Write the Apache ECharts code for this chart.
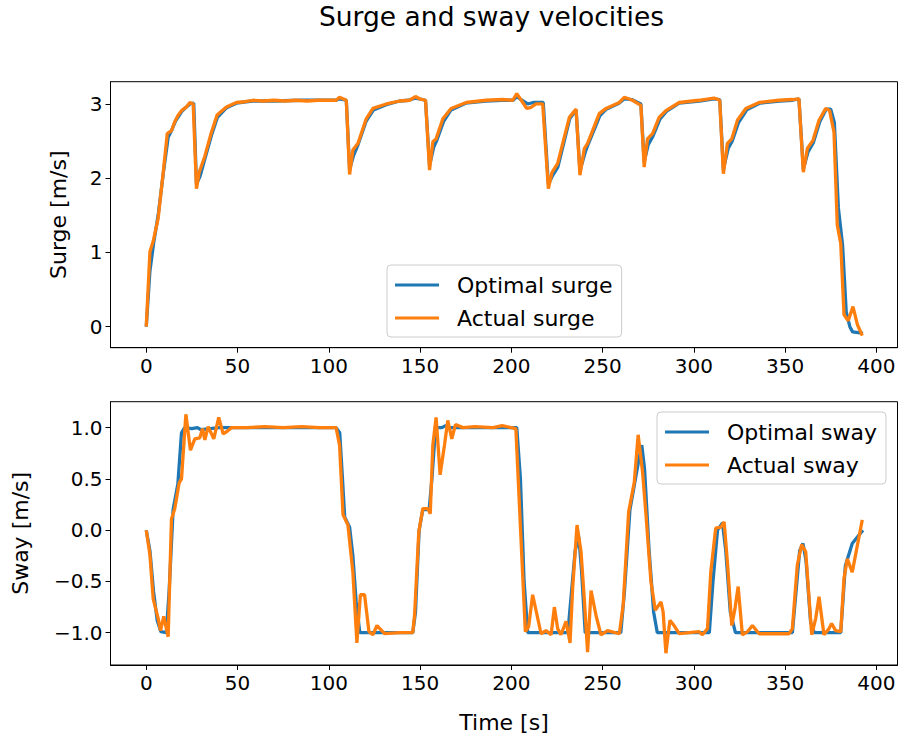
<!DOCTYPE html>
<html>
<head>
<meta charset="utf-8">
<script src="https://cdn.jsdelivr.net/npm/echarts@6/dist/echarts.min.js"></script>
<style>html,body{margin:0;padding:0;background:#fff;}#c{width:901px;height:739px;}</style>
</head>
<body>
<div id="c"></div>
<script>
// ---- data ----
const xTicks = [0, 50, 100, 150, 200, 250, 300, 350, 400];
const surgeTicks = [0, 1, 2, 3];
const swayTicks = [-1, -0.5, 0, 0.5, 1];

const surgeOptT = [0,2,4,6.5,9.5,12,14,16,19.5,22,24,26,27.5,29.5,32,36,39,44,49.4,58,70,85,100,104,106,109.6,111.4,113.5,116,120.5,124.5,131.5,138.8,144,147.5,153,155.2,157.5,159,163,167,175,186,195,201,203,206,209,212,217.5,220.3,222.5,225.5,232,235.5,237.6,240.5,242,248.5,252,259,262,266,271,272.8,275,277.5,281.5,285,292,303,311,314.2,316.2,318.8,321,324.5,329,336,347,354,357.6,360,362.5,365.5,369,372.5,375,377,379.2,381.5,383.5,385.5,387,390,392.7];
const surgeOpt = [0,0.75,1.12,1.5,2.1,2.55,2.65,2.77,2.9,2.96,3.0,3.01,1.92,2.03,2.25,2.6,2.82,2.95,3.01,3.04,3.04,3.05,3.05,3.05,3.07,3.05,2.12,2.3,2.45,2.77,2.92,2.99,3.04,3.05,3.08,3.05,2.17,2.42,2.5,2.77,2.92,3.01,3.04,3.05,3.05,3.1,3.05,3.0,3.02,3.02,1.92,2.03,2.15,2.8,2.92,2.1,2.35,2.45,2.84,2.93,3.01,3.07,3.06,3.0,2.22,2.45,2.56,2.8,2.9,3.01,3.04,3.07,3.06,2.12,2.4,2.5,2.75,2.92,3.01,3.04,3.05,3.07,2.12,2.35,2.48,2.76,2.93,2.93,2.75,1.6,1.1,0.2,0.0,-0.07,-0.08,-0.09];

const surgeActT = [0,2.0,3.8,6.5,9.3,11.5,13.8,15.6,17.5,19.3,22,23.9,25.7,27.5,29,32,35.7,38.8,43.9,49.4,54,58.5,64,70,76,82,88,94,100,104,105.9,109.6,111.4,113.2,116,120.5,124.2,131.5,138.8,144.2,147.5,149.7,153,155.2,157,158.8,162.5,167,175.3,186.2,195.3,200.8,203,206.3,208.4,210.5,213.6,217.2,220.3,222.3,225.4,231.8,235.5,237.6,240,241.8,248.2,251.9,259.2,261.9,266.4,271,272.8,274.6,277.4,281,284.7,292,302.9,311.1,314.2,316.2,318.4,320.8,323.9,328.5,335.8,346.7,354,357.6,360,362.2,365.3,368.6,372.3,374.4,376.8,378.6,380.5,382.3,384.6,387.2,389.6,392.3];
const surgeAct = [0,1.01,1.15,1.46,2.08,2.6,2.64,2.76,2.85,2.91,2.96,3.02,3.0,1.86,2.08,2.29,2.62,2.85,2.96,3.02,3.03,3.05,3.04,3.05,3.04,3.05,3.04,3.05,3.05,3.05,3.09,3.05,2.05,2.38,2.47,2.8,2.94,3.0,3.04,3.05,3.1,3.07,3.05,2.11,2.49,2.53,2.8,2.94,3.02,3.05,3.06,3.05,3.14,3.02,2.94,2.95,3.0,3.0,1.86,2.08,2.2,2.82,2.93,2.04,2.4,2.47,2.87,2.94,3.02,3.09,3.05,2.98,2.15,2.53,2.6,2.82,2.91,3.02,3.05,3.08,3.05,2.06,2.47,2.53,2.78,2.94,3.02,3.05,3.06,3.07,2.08,2.4,2.51,2.78,2.94,2.91,2.62,1.37,1.12,0.16,0.08,0.27,0.03,-0.12];

const swayOptT = [0,2,4,6,8,11,12.5,14.7,17.3,19.3,21,25,28,30,40,60,80,104,106,107.5,108.7,111.4,113.2,115,117,120,146,147.5,149.5,151.5,155,156.5,158.5,162,164,166,180,203,205,207,209,231,233,235,237,238.5,240.5,260,262,265,268,270,271.5,273,275.5,278,280,308.5,310.5,313,315.7,317.5,320,322.8,354,356,358,359.8,361.5,364,366,380.5,383,386.8,390.4,392.7];
const swayOpt = [0,-0.2,-0.6,-0.88,-0.99,-1.0,-0.6,0.2,0.45,0.95,1.0,0.99,1.0,0.98,1.0,1.0,1.0,1.0,0.95,0.5,0.13,0.03,-0.25,-0.7,-1.0,-1.0,-1.0,-0.8,0.0,0.2,0.2,0.5,1.0,1.0,1.02,1.0,1.0,1.0,0.5,-0.5,-1.0,-1.0,-0.6,-0.2,-0.07,-0.4,-1.0,-1.0,-0.6,0.2,0.5,0.7,0.83,0.6,-0.2,-0.8,-1.0,-1.0,-0.5,0.0,0.07,-0.2,-0.8,-1.0,-1.0,-0.6,-0.2,-0.13,-0.3,-0.9,-1.0,-1.0,-0.35,-0.13,-0.05,0.0];

const swayActT = [0,2,3.8,6.5,7.8,9.6,12,13.8,15.6,18,19.3,21.7,24.2,26.6,29.3,30.8,32.1,33.9,37,39.7,42.1,44,46.7,55,65,75,85,95,104,105.9,107.8,110.5,113.2,115.4,117.3,119.6,122,124.2,126.4,130.6,138.8,146,147,149.3,151.5,154.3,155.6,157,158.8,161,163.4,165.2,167.4,169.4,173.5,180,190,195,200,202.5,205.3,207.7,209.5,211.7,216.3,219,221.8,223.6,225.4,227.2,230,232.2,233.6,236,238.2,240,241.8,243.7,246.4,249.1,252.8,259.2,261.3,264.3,267.4,269.5,271.9,273.8,276.5,278.9,282,283.2,284.7,286.9,289.2,292,302.9,304.7,307.5,309.3,312,314.8,316.6,318.4,320.8,322.6,324.3,326.6,329.4,332.1,335.8,352.2,354,356.7,359.1,361.3,364.6,366.8,368.6,371.3,374.1,375.5,377.7,380.5,382.3,384.1,386.8,389.6,392.3];
const swayAct = [0,-0.24,-0.67,-0.86,-0.98,-0.84,-1.04,0.11,0.21,0.46,0.5,1.13,0.78,0.89,0.9,0.99,0.88,1.01,0.89,1.1,0.94,0.96,1.0,1.0,1.01,1.0,1.01,1.0,1.0,0.83,0.15,0.05,-0.41,-1.1,-0.63,-0.63,-0.99,-1.02,-0.93,-1.01,-1.0,-1.0,-0.83,-0.02,0.21,0.21,0.16,0.83,1.1,0.54,0.83,1.07,0.89,1.03,1.0,1.01,1.0,1.02,1.0,0.99,-0.08,-0.99,-0.94,-0.63,-1.01,-0.98,-1.02,-0.75,-0.96,-1.02,-0.89,-1.1,-0.57,0.05,-0.21,-0.67,-1.19,-0.59,-0.83,-1.02,-0.98,-1.01,-0.73,0.18,0.47,0.93,0.57,0.15,-0.5,-0.78,-0.7,-0.8,-1.2,-0.88,-0.93,-1.01,-0.99,-1.02,-0.96,-0.41,0.02,0.03,0.08,-0.31,-0.93,-0.76,-0.55,-1.02,-0.99,-0.93,-1.01,-1.01,-0.96,-0.34,-0.14,-0.21,-1.02,-0.86,-0.65,-1.02,-0.96,-0.91,-0.98,-0.99,-0.47,-0.28,-0.41,-0.15,0.1];

// ---- build ----
const pairs = (t, v) => t.map((x, i) => [x, v[i]]);
const FONT = 'DejaVu Sans';
const BLUE = '#1f77b4', ORANGE = '#ff7f0e';
const fmt = v => (v < 0 ? '\u2212' : '') + Math.abs(v).toFixed(1);

function xAxisCfg(gi, name) {
  return {
    type: 'value', gridIndex: gi, min: -19.6, max: 411.6,
    name: name || '', nameLocation: 'middle', nameGap: 46,
    nameTextStyle: { color: '#000', fontSize: 22, fontFamily: FONT },
    axisLine: { show: true, onZero: false, lineStyle: { color: '#000', width: 1 } },
    axisTick: { show: true, inside: false, length: 5, customValues: xTicks, lineStyle: { color: '#000' } },
    axisLabel: { show: true, margin: 8, customValues: xTicks, color: '#000', fontSize: 20, fontFamily: FONT },
    splitLine: { show: false }
  };
}
function yAxisCfg(gi, min, max, ticks, name, gap, f) {
  return {
    type: 'value', gridIndex: gi, min: min, max: max,
    name: name, nameLocation: 'middle', nameGap: gap, nameRotate: 90,
    nameTextStyle: { color: '#000', fontSize: 22, fontFamily: FONT },
    axisLine: { show: true, onZero: false, lineStyle: { color: '#000', width: 1 } },
    axisTick: { show: true, inside: false, length: 5, customValues: ticks, lineStyle: { color: '#000' } },
    axisLabel: { show: true, margin: 8, customValues: ticks, color: '#000', fontSize: 20, fontFamily: FONT, formatter: f },
    splitLine: { show: false }
  };
}
function lineSeries(name, data, color, xi) {
  return {
    type: 'line', name: name, data: data, xAxisIndex: xi, yAxisIndex: xi,
    showSymbol: false, symbol: 'none', smooth: false,
    lineStyle: { color: color, width: 3.3 }, itemStyle: { color: color },
    emphasis: { disabled: true }, animation: false
  };
}
function legendCfg(names, left, top) {
  return {
    data: names, orient: 'vertical', left: left, top: top,
    icon: 'rect', itemWidth: 44, itemHeight: 3, itemGap: 11,
    padding: [9, 9, 8, 8],
    backgroundColor: 'rgba(255,255,255,0.8)', borderColor: '#cccccc', borderWidth: 1, borderRadius: 4,
    textStyle: { color: '#000', fontSize: 22, fontFamily: FONT, padding: [0, 0, 0, 13] },
    selectedMode: false
  };
}

const chart = echarts.init(document.getElementById('c'), null, { renderer: 'svg', width: 901, height: 739 });
chart.setOption({
  animation: false,
  backgroundColor: '#fff',
  graphic: [{
    type: 'text', left: 319, top: 3,
    style: { text: 'Surge and sway velocities', fontSize: 26.5, fontFamily: FONT, fill: '#000' }
  }],
  grid: [
    { left: 110.5, top: 81.7, width: 787, height: 266, show: true, borderColor: '#000', borderWidth: 1, backgroundColor: 'transparent' },
    { left: 110.5, top: 401.7, width: 787, height: 263.3, show: true, borderColor: '#000', borderWidth: 1, backgroundColor: 'transparent' }
  ],
  xAxis: [xAxisCfg(0), xAxisCfg(1, 'Time [s]')],
  yAxis: [
    yAxisCfg(0, -0.283, 3.3, surgeTicks, 'Surge [m/s]', 41, v => String(v)),
    yAxisCfg(1, -1.315, 1.253, swayTicks, 'Sway [m/s]', 79, fmt)
  ],
  legend: [
    legendCfg(['Optimal surge', 'Actual surge'], 387, 265),
    legendCfg(['Optimal sway', 'Actual sway'], 657, 412)
  ],
  series: [
    lineSeries('Optimal surge', pairs(surgeOptT, surgeOpt), BLUE, 0),
    lineSeries('Actual surge', pairs(surgeActT, surgeAct), ORANGE, 0),
    lineSeries('Optimal sway', pairs(swayOptT, swayOpt), BLUE, 1),
    lineSeries('Actual sway', pairs(swayActT, swayAct), ORANGE, 1)
  ]
});
</script>
</body>
</html>
